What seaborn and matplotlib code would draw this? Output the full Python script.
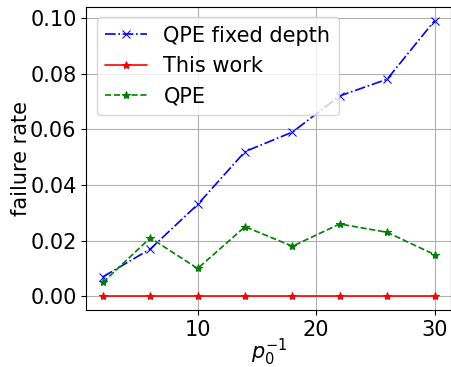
import matplotlib
matplotlib.use("Agg")
import matplotlib.pyplot as plt
import seaborn as sns
import pandas as pd

x_vals = [2, 6, 10, 14, 18, 22, 26, 30]
qpe_fixed = [0.007, 0.017, 0.033, 0.052, 0.059, 0.072, 0.078, 0.099]
this_work = [0, 0, 0, 0, 0, 0, 0, 0]
qpe = [0.005, 0.021, 0.010, 0.025, 0.018, 0.026, 0.023, 0.015]

sns.set_style("ticks")
plt.rcParams['font.family'] = ['DejaVu Sans']
plt.rcParams.update({
    "text.color": "black", "axes.labelcolor": "black",
    "xtick.color": "black", "ytick.color": "black",
    "axes.edgecolor": "black",
})

fig = plt.figure(figsize=(4.52, 3.67), dpi=100)
ax = fig.add_axes([0.191, 0.155, 0.807, 0.826])

series = [
    ("QPE fixed depth", qpe_fixed, "blue", "-.", "x"),
    ("This work", this_work, "red", "-", "*"),
    ("QPE", qpe, "green", "--", "*"),
]
for name, vals, color, ls, mk in series:
    df = pd.DataFrame({"x": x_vals, "y": vals})
    sns.lineplot(data=df, x="x", y="y", ax=ax, color=color, linestyle=ls,
                 marker=mk, markersize=6, markeredgecolor=color,
                 linewidth=1.2, label=name)

ax.grid(True, color="#b0b0b0", linewidth=0.8)
ax.set_xticks([10, 20, 30])
ax.set_yticks([0.0, 0.02, 0.04, 0.06, 0.08, 0.10])
ax.set_yticklabels(["0.00", "0.02", "0.04", "0.06", "0.08", "0.10"])
ax.tick_params(labelsize=15, colors="black", length=3.5, pad=3.5)
for s in ax.spines.values():
    s.set_color("black")
ax.set_xlabel(r"$p_0^{-1}$", fontsize=15, labelpad=-2)
ax.set_ylabel("failure rate", fontsize=15, labelpad=-1)
leg = ax.legend(loc="upper left", fontsize=15, frameon=True, handlelength=2,
                borderaxespad=0.5)
for t in leg.get_texts():
    t.set_color("black")
fig.savefig("out.png", dpi=100)
